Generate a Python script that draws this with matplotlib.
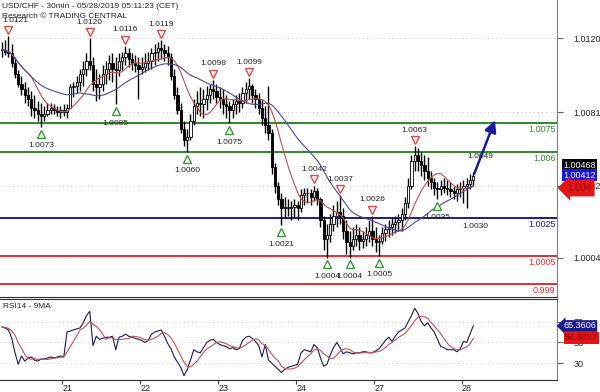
import numpy as np
import pandas as pd
import matplotlib
matplotlib.use('Agg')
import matplotlib.pyplot as plt
from matplotlib.transforms import offset_copy

plt.rcParams['font.family'] = ['Liberation Sans', 'DejaVu Sans']

# hourly bars, prices in pips above 1.0000 (121 -> 1.0121)
high = [118, 119, 121, 117, 110, 103, 100, 97, 94, 92, 90, 87, 86, 84, 86, 86, 85, 84, 84, 85,
        85, 96, 97, 100, 104, 108, 112, 120, 110, 104, 101, 106, 108, 111, 112, 110, 112, 113, 116, 115,
        112, 111, 110, 110, 112, 113, 115, 117, 118, 119, 117, 116, 112, 104, 94, 86, 76, 72, 80, 88,
        92, 94, 93, 95, 96, 98, 96, 94, 93, 90, 87, 88, 90, 91, 94, 97, 99, 96, 93, 91,
        88, 84, 95, 72, 54, 44, 38, 36, 35, 34, 35, 34, 40, 41, 41, 40, 42, 41, 36, 26,
        22, 27, 32, 34, 37, 30, 24, 18, 20, 22, 20, 18, 20, 24, 26, 20, 16, 20, 22, 24,
        25, 26, 27, 30, 36, 46, 58, 63, 62, 60, 58, 57, 50, 46, 44, 45, 46, 45, 44, 42,
        43, 44, 45, 46, 48, 49]
low = [110, 111, 110, 105, 99, 94, 90, 86, 84, 79, 78, 76, 73, 76, 79, 80, 80, 79, 78, 79,
       78, 84, 89, 91, 92, 95, 100, 103, 92, 87, 88, 92, 96, 98, 97, 85, 100, 103, 106, 105,
       103, 102, 88, 101, 102, 103, 104, 106, 108, 109, 108, 106, 98, 88, 80, 70, 63, 60, 66, 74,
       80, 79, 78, 82, 86, 88, 86, 83, 80, 78, 75, 78, 80, 81, 83, 86, 88, 86, 83, 80,
       74, 70, 66, 48, 38, 32, 21, 25, 26, 24, 25, 24, 28, 32, 33, 32, 34, 32, 20, 8,
       4, 12, 18, 20, 22, 14, 6, 4, 8, 10, 8, 9, 10, 12, 10, 7, 5, 11, 13, 15,
       16, 17, 18, 18, 24, 30, 40, 50, 50, 47, 45, 42, 40, 37, 35, 37, 38, 37, 36, 35,
       34, 36, 33, 30, 40, 42]
close = [114, 113, 112, 107, 101, 96, 93, 90, 88, 83, 82, 80, 79, 80, 82, 83, 82, 81, 82, 81,
         83, 94, 95, 97, 101, 104, 108, 106, 96, 94, 96, 101, 104, 107, 104, 103, 108, 110, 112, 109,
         107, 106, 104, 105, 107, 108, 112, 113, 115, 114, 112, 110, 100, 90, 82, 72, 66, 68, 76, 84,
         86, 85, 88, 90, 93, 92, 89, 88, 85, 84, 82, 85, 87, 86, 91, 93, 95, 90, 88, 83,
         78, 74, 70, 52, 42, 35, 30, 31, 30, 31, 32, 30, 37, 38, 38, 36, 39, 35, 24, 14,
         16, 22, 26, 28, 26, 18, 12, 10, 14, 16, 13, 14, 16, 18, 14, 12, 13, 17, 19, 20,
         22, 23, 24, 27, 33, 42, 55, 58, 55, 53, 50, 46, 44, 41, 40, 42, 41, 40, 39, 38,
         40, 41, 42, 43, 45, 47]

# RSI14 read per bar
rsi14 = [65, 64, 62, 54, 40, 29, 37, 32, 35, 36, 33, 32, 34, 34, 35, 36, 35, 36, 37, 36,
         60, 61, 62, 63, 64, 69, 76, 80, 47, 56, 53, 54, 55, 55, 56, 43, 55, 56, 58, 56,
         55, 54, 53, 52, 50, 52, 58, 60, 61, 62, 56, 49, 44, 36, 31, 26, 18, 24, 33, 43,
         41, 40, 45, 50, 52, 53, 50, 48, 47, 46, 44, 45, 43, 44, 52, 55, 56, 54, 51, 47,
         36, 48, 33, 30, 27, 24, 21, 24, 26, 27, 28, 29, 40, 43, 42, 41, 48, 45, 35, 27,
         29, 38, 45, 50, 45, 39, 41, 40, 39, 40, 40, 41, 41, 40, 40, 42, 44, 48, 52, 55,
         51, 56, 60, 62, 64, 70, 76, 83, 78, 70, 66, 69, 64, 60, 53, 46, 45, 43, 43, 43,
         41, 44, 51, 50, 58, 66]

day_ticks = [18.5, 42.5, 66.5, 90.5, 114.5, 141.5]
day_labels = ['21', '22', '23', '24', '27', '28']

swing_high_bars = [2, 27, 38, 49, 65, 76, 96, 104, 114, 127]
swing_low_bars = [12, 35, 57, 70, 86, 100, 107, 116, 134]

levels = [1.0075, 1.0060, 1.0025, 1.0005, 0.9990]
level_labels = ['1.0075', '1.006', '1.0025', '1.0005', '0.999']
level_colors = ['#2a8c2a', '#2a8c2a', '#1c1c8c', '#e03030', '#e03030']

price_ticks = [1.0004, 1.0042, 1.0081, 1.0120]
rsi_ticks = [30, 50, 70]

target_bar = 152
target_price = 1.0078

hi = 1 + np.array(high) / 1e4
lo = 1 + np.array(low) / 1e4
c = 1 + np.array(close) / 1e4
o = np.r_[c[0], c[:-1]]
x = np.arange(len(c))

ma_fast = pd.Series(c).rolling(10, min_periods=1).mean()
ma_slow = pd.Series(c).rolling(25, min_periods=1).mean()

rsi = pd.Series(rsi14, dtype=float)
rsi_ma = rsi.rolling(5, min_periods=1).mean()

fig = plt.figure(figsize=(6, 3.92), dpi=100)
ax = fig.add_axes([0, 95 / 392, 557 / 600, 297 / 392])
ax2 = fig.add_axes([0, 12 / 392, 557 / 600, 81 / 392], sharex=ax)

# levels
for lvl, lbl, col in zip(levels, level_labels, level_colors):
    ax.axhline(lvl, color=col, lw=1.4, zorder=1)
    ax.annotate(lbl, (1, lvl), xycoords=('axes fraction', 'data'), xytext=(-1, -1.5),
                textcoords='offset points', ha='right', va='top', color=col, fontsize=6.5)

# candles
ax.vlines(x, lo, hi, color='black', lw=1.0, zorder=3)
up = c >= o
ax.bar(x, np.maximum(np.abs(c - o), 0.00002), bottom=np.minimum(o, c), width=0.7,
       color=np.where(up, 'white', 'black'), edgecolor='black', lw=0.6, zorder=4)

ax.plot(x, ma_fast, color='#b85050', lw=0.8, zorder=5)
ax.plot(x, ma_slow, color='#4a4a9a', lw=0.8, zorder=5)

# swing markers
tr_hi = offset_copy(ax.transData, fig=fig, x=0, y=4.5, units='points')
tr_lo = offset_copy(ax.transData, fig=fig, x=0, y=-5, units='points')
ax.plot(swing_high_bars, hi[swing_high_bars], 'v', transform=tr_hi, ms=6, mfc='white',
        mec='#e04848', mew=1, zorder=6)
ax.plot(swing_low_bars, lo[swing_low_bars], '^', transform=tr_lo, ms=6, mfc='white',
        mec='#3a963a', mew=1, zorder=6)
for i in swing_high_bars:
    # keep the first label inside the left edge
    dx = 5 if i == swing_high_bars[0] else 0
    ax.annotate(f'{hi[i]:.4f}', (i, hi[i]), xytext=(dx, 11.5), textcoords='offset points',
                ha='center', va='center', fontsize=6, color='#222222', zorder=7)
for i in swing_low_bars:
    ax.annotate(f'{lo[i]:.4f}', (i, lo[i]), xytext=(0, -13.5), textcoords='offset points',
                ha='center', va='center', fontsize=6, color='#222222', zorder=7)
ax.annotate(f'{hi[-1]:.4f}', (x[-1], hi[-1]), xytext=(5, 11.5), textcoords='offset points',
            ha='center', va='center', fontsize=6, color='#222222')
ax.annotate(f'{lo[-3]:.4f}', (x[-3], lo[-3]), xytext=(6.5, -13), textcoords='offset points',
            ha='center', va='center', fontsize=6, color='#222222')

# projection arrow
ax.annotate('', xy=(target_bar, target_price), xytext=(x[-1], c[-1]),
            arrowprops=dict(arrowstyle='-|>,head_length=0.7,head_width=0.35',
                            color='#1a1a9a', lw=1.8), zorder=8)

ax.text(0.004, 0.99, 'USD/CHF - 30min - 05/28/2019 05:11:23 (CET)', transform=ax.transAxes,
        va='top', ha='left', fontsize=6, color='#222222')
ax.text(0.004, 0.957, 'Research \u00a9 TRADING CENTRAL', transform=ax.transAxes,
        va='top', ha='left', fontsize=6, color='#222222')

ax.set_xlim(-0.615, 170.77)
ax.set_ylim(0.998312, 1.014026)
ax.yaxis.tick_right()
ax.set_yticks(price_ticks)
ax.set_yticklabels([f'{t:.4f}' for t in price_ticks])
ax.tick_params(axis='y', direction='out', length=4, pad=8, labelsize=6.5, color='#606060',
               labelcolor='#222222')
ax.tick_params(axis='x', bottom=False, labelbottom=False)
ax.grid(axis='y', linestyle=(0, (1, 4)), color='#b0b0b0', lw=0.6)
for s in ['top', 'left']:
    ax.spines[s].set_visible(False)
ax.spines['bottom'].set_color('#303030')
ax.spines['right'].set_color('#808080')

# RSI panel
ax2.plot(x, rsi, color='#1a1a50', lw=0.8)
ax2.plot(x, rsi_ma, color='#c05050', lw=0.8)
ax2.set_ylim(13.8, 91.9)
ax2.yaxis.tick_right()
ax2.set_yticks(rsi_ticks)
ax2.tick_params(axis='y', direction='out', length=4, pad=8, labelsize=6.5, color='#606060',
                labelcolor='#222222')
ax2.grid(axis='y', linestyle=(0, (1, 4)), color='#b0b0b0', lw=0.6)
ax2.set_xticks(day_ticks)
ax2.set_xticklabels(day_labels)
ax2.tick_params(axis='x', direction='out', length=3, pad=0, labelsize=6.5, color='#404040',
                labelcolor='#222222')
for lbl in ax2.get_xticklabels():
    lbl.set_horizontalalignment('left')
ax2.spines['left'].set_visible(False)
for s in ['top', 'bottom']:
    ax2.spines[s].set_color('#303030')
ax2.spines['right'].set_color('#808080')
ax2.text(0.006, 0.95, 'RSI14 - 9MA', transform=ax2.transAxes, va='top', ha='left',
         fontsize=6, color='#222222')

# price tags
fig.text(563 / 600, 1 - 165 / 392, '1.00468', color='white', fontsize=6.5, va='center',
         bbox=dict(boxstyle='square,pad=0.15', fc='black', ec='none'))
fig.text(563 / 600, 1 - 175 / 392, '1.00412', color='white', fontsize=6.5, va='center',
         bbox=dict(boxstyle='square,pad=0.15', fc='#1515e8', ec='none'))
fig.text(567 / 600, 1 - 188 / 392, '1.004', color='#900000', fontsize=7, va='center',
         bbox=dict(boxstyle='larrow,pad=0.35', fc='#e51515', ec='none'))
fig.text(563 / 600, 1 - 326 / 392, '65.3606', color='white', fontsize=6.5, va='center',
         bbox=dict(boxstyle='larrow,pad=0.15', fc='#1a1a8a', ec='none'))
fig.text(565 / 600, 1 - 338 / 392, '54.8997', color='#900000', fontsize=6.5, va='center',
         bbox=dict(boxstyle='square,pad=0.15', fc='#e51515', ec='none'))

fig.savefig('out.png', dpi=100)
